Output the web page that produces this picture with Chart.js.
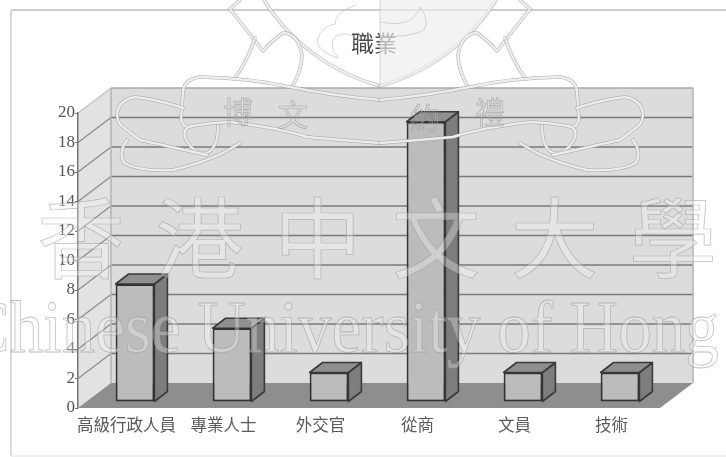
<!DOCTYPE html>
<html>
<head>
<meta charset="utf-8">
<style>
  html, body { margin: 0; padding: 0; background: #fff; }
  #wrap { width: 726px; height: 457px; }
</style>
<script src="https://cdn.jsdelivr.net/npm/chart.js@4/dist/chart.umd.min.js"></script>
</head>
<body>
<div id="wrap"><canvas id="chart" width="726" height="457"></canvas></div>
<script>
const categories = ['高級行政人員', '專業人士', '外交官', '從商', '文員', '技術'];
const counts = [8, 5, 2, 19, 2, 2];
const chartTitle = '職業';
const crestCharacters = ['香', '港', '中', '文', '大', '學'];
const crestEnglish = 'Chinese University of Hong';
const mottoCharacters = ['博', '文', '約', '禮'];

const CJK = '"Noto Sans CJK TC", sans-serif';
const SERIF = '"Liberation Serif", serif';

// Receding offset of the room's back wall, and of the plane the bars stand on.
const ROOM_DEPTH = { x: 33, y: -25 };
const BAR_PLANE = { x: 8.5, y: -6 };
const BAR_DEPTH = { x: 13, y: -10 };

function quad(ctx, pts, fill, stroke, lineWidth) {
  ctx.beginPath();
  pts.forEach((p, i) => (i ? ctx.lineTo(p[0], p[1]) : ctx.moveTo(p[0], p[1])));
  ctx.closePath();
  if (fill) { ctx.fillStyle = fill; ctx.fill(); }
  if (stroke) { ctx.strokeStyle = stroke; ctx.lineWidth = lineWidth; ctx.lineJoin = 'round'; ctx.stroke(); }
}

// Page frame, side wall, back wall, floor and the wall gridlines.
const room = {
  id: 'room',
  beforeDraw(chart) {
    const { ctx, chartArea: a, scales: { y } } = chart;
    const d = ROOM_DEPTH;
    ctx.save();
    ctx.fillStyle = '#fff';
    ctx.fillRect(0, 0, chart.width, chart.height);

    ctx.lineWidth = 2;
    ctx.strokeStyle = '#cdcdcd';
    ctx.beginPath();
    ctx.moveTo(726, 10); ctx.lineTo(11, 10);
    ctx.stroke();
    ctx.strokeStyle = '#dadada';
    ctx.beginPath();
    ctx.moveTo(11, 10); ctx.lineTo(11, 456);
    ctx.stroke();
    ctx.strokeStyle = '#efefef';
    ctx.beginPath();
    ctx.moveTo(11, 456); ctx.lineTo(726, 456);
    ctx.stroke();

    const floorY = y.getPixelForValue(0);
    const topY = y.getPixelForValue(20);
    quad(ctx, [[a.left, topY], [a.left + d.x, topY + d.y], [a.left + d.x, floorY + d.y], [a.left, floorY]], '#e2e2e2');
    quad(ctx, [[a.left + d.x, topY + d.y], [a.right + d.x, topY + d.y], [a.right + d.x, floorY + d.y], [a.left + d.x, floorY + d.y]], '#dcdcdc');
    quad(ctx, [[a.left, floorY], [a.left + d.x, floorY + d.y], [a.right + d.x, floorY + d.y], [a.right, floorY]], '#8e8e8e');

    y.ticks.forEach(t => {
      if (t.value === 0) return;
      const py = y.getPixelForValue(t.value);
      ctx.lineWidth = t.value === 20 ? 1.5 : 1.6;
      ctx.strokeStyle = t.value === 20 ? '#a9a9a9' : '#7a7a7a';
      ctx.beginPath();
      ctx.moveTo(a.left + d.x, py + d.y);
      ctx.lineTo(a.right + d.x, py + d.y);
      ctx.stroke();
      ctx.lineWidth = 1.2;
      ctx.strokeStyle = t.value === 20 ? '#c4c4c4' : '#8a8a8a';
      ctx.beginPath();
      ctx.moveTo(a.left, py);
      ctx.lineTo(a.left + d.x, py + d.y);
      ctx.stroke();
    });

    ctx.strokeStyle = '#b4b4b4';
    ctx.lineWidth = 1.5;
    ctx.beginPath();
    ctx.moveTo(a.left + d.x, topY + d.y); ctx.lineTo(a.left + d.x, floorY + d.y);
    ctx.moveTo(a.right + d.x, topY + d.y); ctx.lineTo(a.right + d.x, floorY + d.y);
    ctx.stroke();
    ctx.restore();
  }
};

// Pushes the bars onto their plane and gives each one a side and a lid.
const bars3d = {
  id: 'bars3d',
  beforeDatasetDraw(chart, args) {
    const { ctx } = chart;
    const d = BAR_DEPTH;
    ctx.save();
    ctx.translate(BAR_PLANE.x, BAR_PLANE.y);
    args.meta.data.forEach(bar => {
      const { x, y, base, width } = bar.getProps(['x', 'y', 'base', 'width'], true);
      const r = x + width / 2, l = x - width / 2;
      quad(ctx, [[r, y], [r + d.x, y + d.y], [r + d.x, base + d.y], [r, base]], '#7d7d7d', '#3a3a3a', 1.6);
      quad(ctx, [[l, y], [l + d.x, y + d.y], [r + d.x, y + d.y], [r, y]], '#8f8f8f', '#3a3a3a', 1.6);
    });
  },
  afterDatasetDraw(chart) {
    chart.ctx.restore();
  }
};

// Pale university crest laid over the finished chart.
const crest = {
  id: 'crest',
  afterDraw(chart) {
    const { ctx } = chart;
    const band = (path) => {
      ctx.lineJoin = 'round';
      ctx.lineCap = 'round';
      ctx.strokeStyle = 'rgba(150,150,150,0.8)';
      ctx.lineWidth = 3.4;
      ctx.stroke(path);
      ctx.strokeStyle = 'rgba(240,240,240,0.95)';
      ctx.lineWidth = 2.4;
      ctx.stroke(path);
    };
    const halves = [
      'M264 0 C288 40 330 72 380 86',
      'M240 0 L230 9 L263 51 Q270 42 283 33 Q298 33 302 55 Q302 70 292 87',
      'M255 38 Q248 60 235 78',
      'M380 100 Q335 96 290 87 Q250 78 200 77 Q184 79 183 92 L181 120 Q183 126 188 127',
      'M380 143 Q340 140 307 137 Q280 128 230 122 Q205 123 188 127 Q182 132 186 140 Q195 155 207 153 Q218 148 218 126',
      'M183 108 Q160 100 135 97 Q118 100 117 115 Q118 124 123 127 L140 140 L207 155',
      'M240 143 Q215 160 173 170 Q140 172 124 163 Q118 152 127 140'
    ].map(s => new Path2D(s));

    ctx.save();
    halves.forEach(band);
    ctx.translate(760, 0);
    ctx.scale(-1, 1);
    halves.forEach(band);
    ctx.restore();

    ctx.save();
    const rightHalf = new Path2D('M380 0 L496 0 C470 40 430 72 380 86 Z');
    ctx.fillStyle = 'rgba(238,238,238,0.68)';
    ctx.fill(rightHalf);
    ctx.strokeStyle = 'rgba(190,190,190,0.8)';
    ctx.lineWidth = 0.8;
    ctx.beginPath();
    ctx.moveTo(380, 0); ctx.lineTo(380, 86);
    ctx.stroke();
    ctx.stroke(new Path2D('M356 5 Q335 12 335 24 Q322 26 317 40 Q318 52 338 58 Q328 45 335 37 Q345 30 356 38'));
    ctx.stroke(new Path2D('M380 22 Q400 26 410 20 Q420 12 420 7 Q430 20 424 30 Q410 38 380 36'));

    // Motto on the banner.
    ctx.textAlign = 'center';
    ctx.textBaseline = 'middle';
    ctx.font = '30px ' + CJK;
    ctx.strokeStyle = 'rgba(165,165,165,0.85)';
    ctx.lineWidth = 0.7;
    [238, 293, 425, 490].forEach((x, i) => {
      ctx.strokeText(mottoCharacters[i], x, [112, 115, 118, 112][i]);
    });

    // School name in Chinese, spaced out across the chart.
    ctx.font = '88px ' + CJK;
    ctx.fillStyle = 'rgba(250,250,250,0.32)';
    ctx.strokeStyle = 'rgba(160,160,160,0.7)';
    ctx.lineWidth = 0.7;
    crestCharacters.forEach((ch, i) => {
      const x = 81 + i * 118.4;
      ctx.fillText(ch, x, 238);
      ctx.strokeText(ch, x, 238);
    });

    // School name in English, running off the edges and drawn a little tall.
    ctx.textAlign = 'left';
    ctx.textBaseline = 'alphabetic';
    ctx.font = '67px ' + SERIF;
    ctx.fillStyle = 'rgba(250,250,250,0.32)';
    ctx.translate(-35, 352);
    ctx.scale(1, 1.1);
    ctx.fillText(crestEnglish, 0, 0);
    ctx.strokeText(crestEnglish, 0, 0);
    ctx.restore();
  }
};

new Chart(document.getElementById('chart'), {
  type: 'bar',
  data: {
    labels: categories,
    datasets: [{
      data: counts,
      backgroundColor: '#bcbcbc',
      borderColor: '#333333',
      borderWidth: 2,
      borderSkipped: false,
      barPercentage: 0.4,
      categoryPercentage: 1,
      clip: false
    }]
  },
  options: {
    responsive: false,
    animation: false,
    layout: { padding: { left: 22, right: 0, top: 0, bottom: 0 } },
    plugins: {
      legend: { display: false },
      tooltip: { enabled: false },
      title: {
        display: true,
        text: chartTitle,
        color: '#4a4a4a',
        font: { family: CJK, size: 23, weight: 'normal', lineHeight: 1.2 },
        padding: { top: 29, bottom: 56.4 }
      }
    },
    scales: {
      x: {
        grid: { display: false },
        border: { display: false },
        ticks: {
          color: '#5a5a5a',
          font: { family: CJK, size: 16.5 },
          padding: -1,
          maxRotation: 0,
          autoSkip: false
        },
        afterFit(scale) { scale.height = 49; }
      },
      y: {
        min: 0,
        max: 20,
        grid: { drawOnChartArea: false, color: '#777', tickLength: 3 },
        border: { color: '#777', width: 1.5 },
        ticks: {
          stepSize: 2,
          color: '#555',
          padding: 0,
          font: { family: SERIF, size: 17 }
        },
        afterFit(scale) { scale.width = 56; }
      },
      // Empty right-hand gutter that reserves the space beyond the floor.
      gutter: {
        type: 'linear',
        position: 'right',
        grid: { display: false },
        border: { display: false },
        ticks: { display: false },
        afterFit(scale) { scale.width = 66; }
      }
    }
  },
  plugins: [room, bars3d, crest]
});
</script>
</body>
</html>
